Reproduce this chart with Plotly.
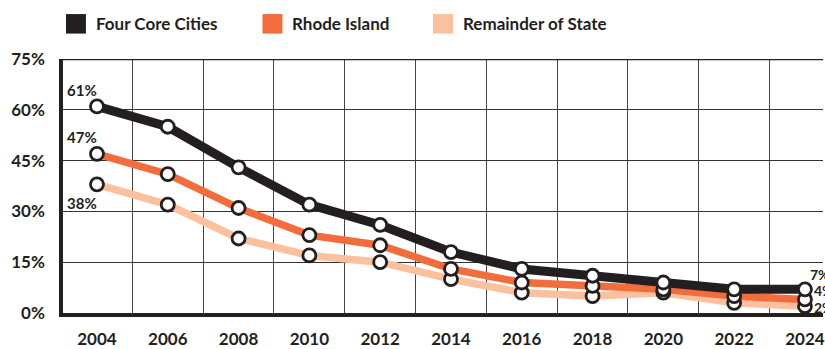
import plotly.graph_objects as go

# Share of population (%) by year
years = [2004, 2006, 2008, 2010, 2012, 2014, 2016, 2018, 2020, 2022, 2024]
four_core_cities = [61, 55, 43, 32, 26, 18, 13, 11, 9, 7, 7]
rhode_island = [47, 41, 31, 23, 20, 13, 9, 8, 7, 5, 4]
remainder_of_state = [38, 32, 22, 17, 15, 10, 6, 5, 6, 3, 2]

series_names = ["Four Core Cities", "Rhode Island", "Remainder of State"]
series_values = [four_core_cities, rhode_island, remainder_of_state]
series_colors = ["#231f20", "#f26d3b", "#fbc09d"]
line_widths = [9, 7.5, 7.5]

y_ticks = [0, 15, 30, 45, 60, 75]
y_tick_labels = [f"{v}%" for v in y_ticks]
x_ticks = years

INK = "#231f20"
FAMILY = "Lato, 'Open Sans', sans-serif"
FONT = dict(family=FAMILY, size=17, color=INK, weight="bold")

W, H = 825, 349
ML, MR, MT, MB = 63, 0, 59, 30
PW, PH = W - ML - MR, H - MT - MB

fig = go.Figure()

# Lines (bottom series first so the darker lines sit on top)
for name, vals, col, lw in reversed(list(zip(series_names, series_values, series_colors, line_widths))):
    fig.add_trace(go.Scatter(
        x=years, y=vals, mode="lines", name=name,
        line=dict(color=col, width=lw), showlegend=False, hoverinfo="skip",
    ))

# Hollow circle markers on top of all lines
for name, vals in reversed(list(zip(series_names, series_values))):
    fig.add_trace(go.Scatter(
        x=years, y=vals, mode="markers", name=name, showlegend=False,
        marker=dict(size=13, color="white", line=dict(color=INK, width=2.8)),
    ))

# End-point value labels
label_font = dict(family=FAMILY, size=15, color=INK, weight="bold")
start_shifts = [16, 17, -19]
for vals, ys in zip(series_values, start_shifts):
    fig.add_annotation(x=years[0], y=vals[0], text=f"{vals[0]}%", showarrow=False,
                       xanchor="right", xshift=2, yshift=ys, font=label_font)
end_font = dict(family=FAMILY, size=14, color=INK, weight="bold")
end_shifts = [(3, 15), (7, 9), (7, -1)]
for vals, (xs, ys) in zip(series_values, end_shifts):
    fig.add_annotation(x=years[-1], y=vals[-1], text=f"{vals[-1]}%", showarrow=False,
                       xanchor="left", xshift=xs, yshift=ys, font=end_font)

# Legend drawn as swatches and labels above the plot
def px_x(p):
    return (p - ML) / PW

def px_y(p):
    return (H - MB - p) / PH

legend_x = [66, 263, 434]
for name, col, lx in zip(series_names, series_colors, legend_x):
    fig.add_shape(type="rect", xref="paper", yref="paper",
                  x0=px_x(lx), x1=px_x(lx + 20), y0=px_y(33), y1=px_y(13),
                  fillcolor=col, line=dict(width=0), layer="above")
    fig.add_annotation(xref="paper", yref="paper", x=px_x(lx + 28), y=px_y(23),
                       text=name, showarrow=False, xanchor="left", yanchor="middle",
                       font=FONT)

# Heavier top border at 75%
fig.add_shape(type="line", xref="paper", yref="y", x0=0, x1=1, y0=75, y1=75,
              line=dict(color=INK, width=2.5), layer="above")

fig.update_layout(
    width=W, height=H,
    margin=dict(l=ML, r=MR, t=MT, b=MB),
    paper_bgcolor="white", plot_bgcolor="white",
    font=FONT, showlegend=False,
)

fig.update_xaxes(
    range=[2003.04, 2024.51],
    tickvals=x_ticks, ticktext=[str(v) for v in x_ticks],
    showgrid=False, zeroline=False,
    showline=True, linecolor=INK, linewidth=4,
    ticks="", ticklabelstandoff=8, ticklabeloverflow="allow",
    tickfont=dict(family=FAMILY, size=17, color=INK, weight="bold"),
    minor=dict(tick0=2005, dtick=2, showgrid=True, gridcolor="#444444", gridwidth=1),
)
fig.update_yaxes(
    range=[0, 75],
    tickvals=y_ticks, ticktext=y_tick_labels,
    showgrid=True, gridcolor="#333333", gridwidth=1, zeroline=False,
    showline=True, linecolor=INK, linewidth=3.5,
    ticks="", ticklabelstandoff=11,
    tickfont=dict(family=FAMILY, size=17, color=INK, weight="bold"),
)

fig.write_html("out.html")
